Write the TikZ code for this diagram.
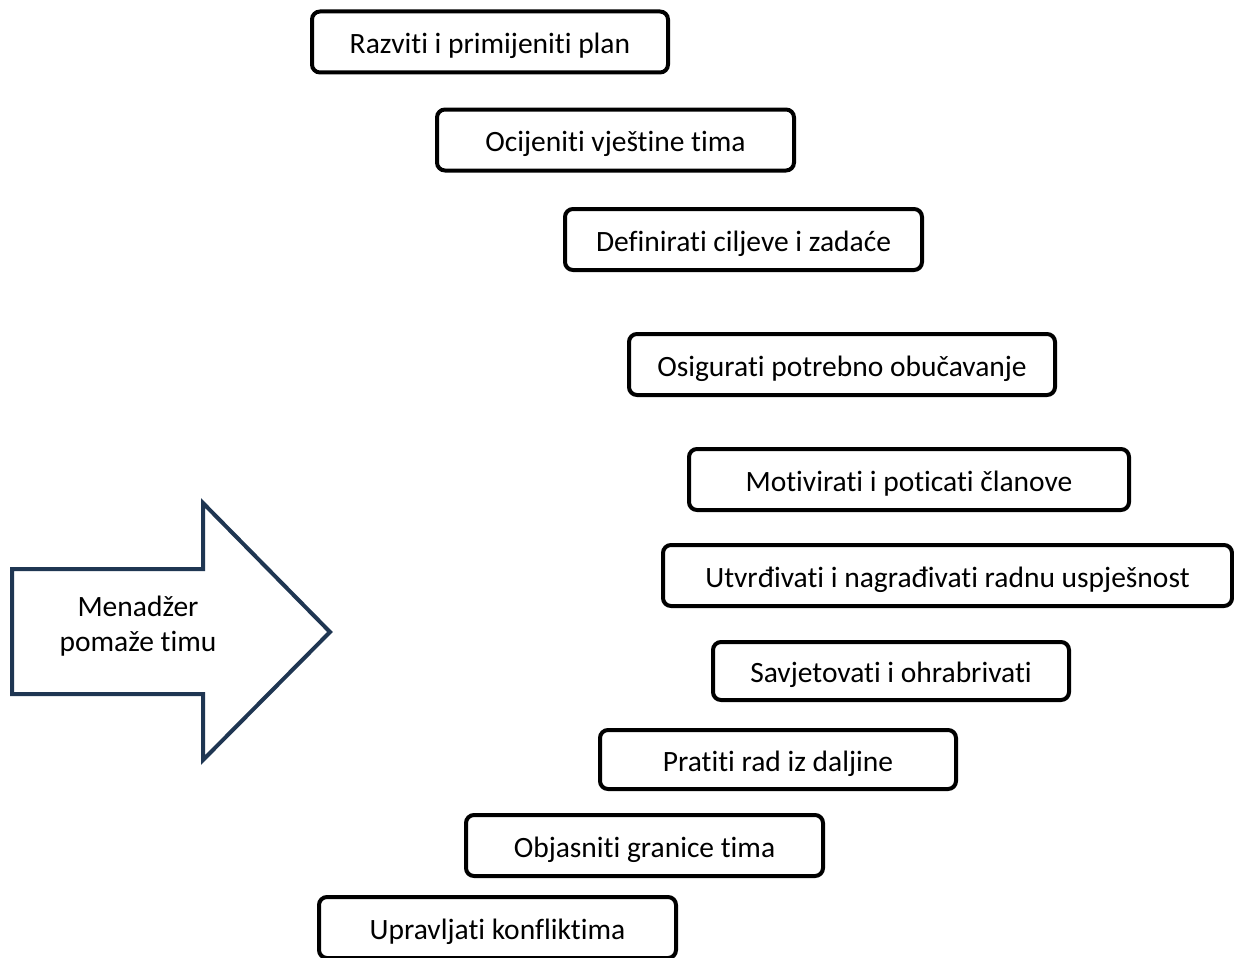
\documentclass[tikz,border=0pt]{standalone}
\usepackage{fontspec}
\setmainfont[Ligatures=NoCommon]{Carlito}
\definecolor{navy}{HTML}{1F3652}
\tikzset{
  korak/.style={draw=black,line width=4pt,rounded corners=8pt,fill=white,
    minimum height=61pt,inner sep=0pt,text height=24pt,text depth=0.2pt,
    font=\fontsize{29.5}{35}\selectfont},
  strelica/.style={draw=navy,line width=4pt,fill=white,line join=miter}
}
\begin{document}
\begin{tikzpicture}[x=1pt,y=-1pt]
\useasboundingbox (0,0) rectangle (1234,958);
% strelica s lijeve strane
\draw[strelica] (12,569) -- (203,569) -- (203,503) -- (330,632) -- (203,760) -- (203,694) -- (12,694) -- cycle;
\node[align=center,font=\fontsize{29.5}{35}\selectfont] (menadzer) at (138,626) {Menadžer\\pomaže timu};
% koraci
\node[korak,minimum width=356pt] (plan) at (490,42) {Razviti i primijeniti plan};
\node[korak,minimum width=357pt] (vjestine) at (615.5,140) {Ocijeniti vještine tima};
\node[korak,minimum width=357pt] (ciljevi) at (743.5,239.5) {Definirati ciljeve i zadaće};
\node[korak,minimum width=426pt] (obuka) at (842,364.5) {Osigurati potrebno obučavanje};
\node[korak,minimum width=440pt] (motivacija) at (909,479.5) {Motivirati i poticati članove};
\node[korak,minimum width=569pt] (uspjesnost) at (947.5,575.5) {Utvrđivati i nagrađivati radnu uspješnost};
\node[korak,minimum width=356pt,minimum height=58pt] (savjet) at (891,671) {Savjetovati i ohrabrivati};
\node[korak,minimum width=356pt,minimum height=59pt] (pracenje) at (778,759.5) {Pratiti rad iz daljine};
\node[korak,minimum width=357pt] (granice) at (644.5,845.5) {Objasniti granice tima};
\node[korak,minimum width=357pt] (konflikti) at (497.5,927.5) {Upravljati konfliktima};
\end{tikzpicture}
\end{document}
